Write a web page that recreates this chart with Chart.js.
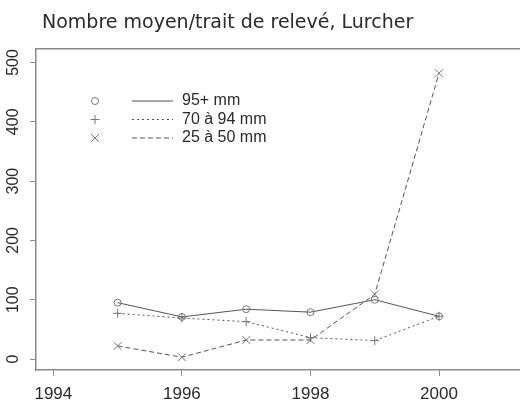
<!DOCTYPE html>
<html>
<head>
  <meta charset="utf-8">
  <title>Nombre moyen/trait de relevé, Lurcher</title>
  <style>
    html, body { margin: 0; padding: 0; background: #fff; }
  </style>
</head>
<body>
<script src="https://cdn.jsdelivr.net/npm/chart.js@4.4.1/dist/chart.umd.min.js"></script>
<canvas id="myChart" width="520" height="401"></canvas>
<script>
  // data
  var years = [1995, 1996, 1997, 1998, 1999, 2000];
  var seriesNames = ['95+ mm', '70 à 94 mm', '25 à 50 mm'];
  var big = [95, 71, 84, 79, 100, 72];
  var mid = [77, 69, 63, 36, 31, 72];
  var small = [22, 3, 32, 32, 109, 482];
  var xTicks = [1994, 1996, 1998, 2000];
  var yTicks = [0, 100, 200, 300, 400, 500];

  var TEXT = '#2a2a2a';
  var AXIS = '#8a8a8a';
  var LINE = '#555';
  var MARK = '#777';

  function points(values) {
    var out = [];
    for (var i = 0; i < years.length; i++) {
      out.push({x: years[i], y: values[i]});
    }
    return out;
  }

  function serie(label, values, style, size, dash) {
    return {
      label: label,
      data: points(values),
      borderColor: LINE,
      borderWidth: 1,
      borderDash: dash,
      pointStyle: style,
      pointRadius: size,
      pointBorderColor: MARK,
      pointBackgroundColor: 'rgba(0,0,0,0)',
      pointBorderWidth: 1,
      tension: 0,
      fill: false
    };
  }

  function plain(v) { return String(v); }

  // R-style legend: symbol, line sample, text
  var rLegend = {
    id: 'rLegend',
    afterLayout: function(chart) {
      // title starts a little right of the y axis
      chart.titleBlock.left += 6;
      chart.titleBlock.right += 6;
    },
    afterDatasetsDraw: function(chart) {
      var ctx = chart.ctx;
      chart.data.datasets.forEach(function(ds, i) {
        var y = 101 + i * 18.5;
        ctx.save();
        ctx.strokeStyle = MARK;
        ctx.fillStyle = 'rgba(0,0,0,0)';
        ctx.lineWidth = 1;
        Chart.helpers.drawPoint(ctx, {pointStyle: ds.pointStyle, radius: ds.pointRadius, borderWidth: 1, rotation: 0}, 95, y);
        ctx.strokeStyle = LINE;
        ctx.setLineDash(ds.borderDash || []);
        ctx.beginPath();
        ctx.moveTo(132, y);
        ctx.lineTo(173, y);
        ctx.stroke();
        ctx.setLineDash([]);
        ctx.fillStyle = TEXT;
        ctx.font = '16px "Liberation Sans", Arial, sans-serif';
        ctx.textBaseline = 'middle';
        ctx.textAlign = 'left';
        ctx.fillText(ds.label, 182, y);
        ctx.restore();
      });
    }
  };

  var xMin = 1993.73, xMax = 2001.26;

  var ctx = document.getElementById('myChart');
  var myChart = new Chart(ctx, {
    type: 'line',
    data: {
      datasets: [
        serie(seriesNames[0], big, 'circle', 3.5, []),
        serie(seriesNames[1], mid, 'cross', 4.5, [2, 3]),
        serie(seriesNames[2], small, 'crossRot', 5.5, [5, 3])
      ]
    },
    options: {
      responsive: false,
      animation: false,
      layout: { padding: 0, autoPadding: false },
      plugins: {
        legend: { display: false },
        tooltip: { enabled: false },
        title: {
          display: true,
          text: 'Nombre moyen/trait de relevé, Lurcher',
          align: 'start',
          fullSize: false,
          color: TEXT,
          font: { family: '"DejaVu Sans", sans-serif', size: 19, weight: 'normal' },
          padding: { top: 12, bottom: 0 }
        }
      },
      scales: {
        x: {
          type: 'linear',
          min: xMin,
          max: xMax,
          afterBuildTicks: function(s) {
            s.ticks = xTicks.map(function(v) { return {value: v}; });
          },
          afterFit: function(s) {
            s.height = 31;
            s.paddingLeft = 0;
            s.paddingRight = 0;
          },
          ticks: {
            callback: plain,
            color: TEXT,
            font: { family: '"Liberation Sans", Arial, sans-serif', size: 17 },
            padding: 8,
            maxRotation: 0,
            autoSkip: false
          },
          grid: { drawOnChartArea: false, tickLength: 6, color: AXIS },
          border: { color: AXIS, width: 1.5 }
        },
        x2: {
          type: 'linear',
          axis: 'x',
          position: 'top',
          min: xMin,
          max: xMax,
          afterFit: function(s) {
            s.height = 49 - 34.8;
            s.paddingLeft = 0;
            s.paddingRight = 0;
          },
          ticks: { display: false },
          grid: { display: false, drawTicks: false },
          border: { color: AXIS, width: 1.5 }
        },
        y: {
          type: 'linear',
          min: -18.55,
          max: 522.8,
          afterBuildTicks: function(s) {
            s.ticks = yTicks.map(function(v) { return {value: v}; });
          },
          afterFit: function(s) {
            s.width = 36;
            s.paddingTop = 0;
            s.paddingBottom = 0;
          },
          ticks: {
            callback: plain,
            color: TEXT,
            font: { family: '"Liberation Sans", Arial, sans-serif', size: 16 },
            minRotation: 90,
            maxRotation: 90,
            crossAlign: 'center',
            padding: 3
          },
          grid: { drawOnChartArea: false, tickLength: 6, color: AXIS },
          border: { color: AXIS, width: 1.5 }
        }
      }
    },
    plugins: [rLegend]
  });
</script>
</body>
</html>
